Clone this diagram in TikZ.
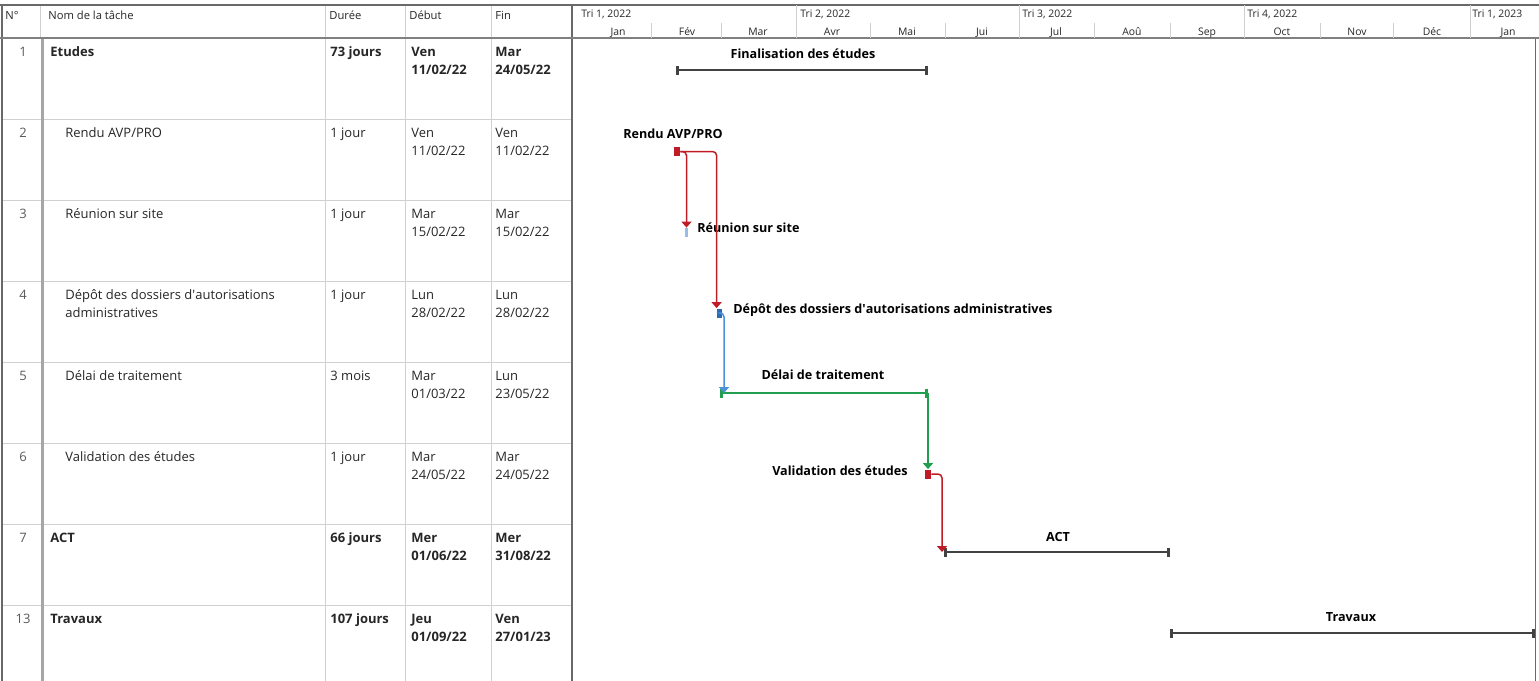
\documentclass[tikz,border=0pt]{standalone}
\usepackage{fontspec}
\setmainfont{Open Sans}
\usepackage{tikz}
\usetikzlibrary{arrows.meta}
\definecolor{ganttred}{RGB}{192,28,40}
\definecolor{ganttblue}{RGB}{76,146,214}
\definecolor{ganttdarkblue}{RGB}{44,108,178}
\definecolor{ganttlightblue}{RGB}{150,190,232}
\definecolor{ganttgreen}{RGB}{34,158,78}
\definecolor{ganttgray}{RGB}{66,66,66}
\definecolor{gridgray}{RGB}{208,208,208}
\definecolor{bordergray}{RGB}{105,105,105}
\definecolor{txtgray}{RGB}{38,38,38}

\begin{document}
\begin{tikzpicture}[x=0.5pt,y=-0.5pt]
                \tikzset{cell/.style = {anchor=north west, inner sep=0pt, align=left, text=txtgray, font=\fontsize{6.5}{9}\selectfont}}
                \tikzset{cellb/.style = {cell, font=\fontsize{6.5}{9}\selectfont\bfseries}}
                \tikzset{num/.style = {cell, anchor=north, text=black!65}}
                \tikzset{head/.style = {anchor=base west, inner sep=0pt, text=txtgray, font=\fontsize{5.6}{7}\selectfont}}
                \tikzset{cal/.style = {anchor=base, inner sep=0pt, text=txtgray, font=\fontsize{5.2}{6}\selectfont}}
                \tikzset{lbl/.style = {anchor=base, inner sep=0pt, font=\fontsize{6.3}{8}\selectfont\bfseries}}
                \tikzset{gridline/.style = {gridgray, line width=0.5pt}}
                \tikzset{sumbar/.style = {ganttgray, line width=1.2pt, arrows={Bar[width=4.5pt,line width=1.6pt]-Bar[width=4.5pt,line width=1.6pt]}}}
                \tikzset{taskbar/.style = {ganttgreen, line width=1.3pt, arrows={Bar[width=4.5pt,line width=1.6pt]-Bar[width=4.5pt,line width=1.6pt]}}}
                \tikzset{taskmark/.style = {inner sep=0pt, minimum width=3pt, minimum height=4.5pt}}
                \tikzset{lnred/.style = {ganttred, line width=0.75pt, rounded corners=2pt, -{Triangle[width=5pt,length=3pt]}}}
                \tikzset{lnblue/.style = {lnred, ganttblue}}
                \tikzset{lngreen/.style = {lnred, ganttgreen}}

                \useasboundingbox (0,0) rectangle (1539,681);

                % table grid
                \draw[gridline] (2,119) -- (572,119);
                \draw[gridline] (2,200) -- (572,200);
                \draw[gridline] (2,281) -- (572,281);
                \draw[gridline] (2,362) -- (572,362);
                \draw[gridline] (2,443) -- (572,443);
                \draw[gridline] (2,524) -- (572,524);
                \draw[gridline] (2,605) -- (572,605);
                \draw[gridline] (40,5) -- (40,38);
                \draw[black!35, line width=1.4pt] (42.5,38) -- (42.5,681);
                \draw[gridline] (325,5) -- (325,681);
                \draw[gridline] (405,5) -- (405,681);
                \draw[gridline] (491,5) -- (491,681);
                \draw[bordergray, line width=0.8pt] (2,5) -- (2,681);
                \draw[bordergray, line width=0.8pt] (572,5) -- (572,681);
                \draw[bordergray, line width=0.5pt] (1535,38) -- (1535,681);
                \draw[bordergray, line width=1pt] (0,5) -- (1539,5);
                \draw[gray, line width=0.6pt] (0,38) -- (1539,38);

                % calendar header
                \draw[gridline] (796,5) -- (796,38);
                \draw[gridline] (1019,5) -- (1019,38);
                \draw[gridline] (1244,5) -- (1244,38);
                \draw[gridline] (1470,5) -- (1470,38);
                \draw[gridline] (651,23) -- (651,38);
                \draw[gridline] (721,23) -- (721,38);
                \draw[gridline] (870,23) -- (870,38);
                \draw[gridline] (945,23) -- (945,38);
                \draw[gridline] (1094,23) -- (1094,38);
                \draw[gridline] (1170,23) -- (1170,38);
                \draw[gridline] (1320,23) -- (1320,38);
                \draw[gridline] (1393,23) -- (1393,38);

                \node[cal, anchor=base west] (q1) at (581,17.5) {Tri 1, 2022};
                \node[cal, anchor=base west] (q2) at (800,17.5) {Tri 2, 2022};
                \node[cal, anchor=base west] (q3) at (1022,17.5) {Tri 3, 2022};
                \node[cal, anchor=base west] (q4) at (1247,17.5) {Tri 4, 2022};
                \node[cal, anchor=base west] (q5) at (1472,17.5) {Tri 1, 2023};

                \node[cal] (m1) at (618,35) {Jan};
                \node[cal] (m2) at (687,35) {Fév};
                \node[cal] (m3) at (758,35) {Mar};
                \node[cal] (m4) at (832,35) {Avr};
                \node[cal] (m5) at (907,35) {Mai};
                \node[cal] (m6) at (982,35) {Jui};
                \node[cal] (m7) at (1056,35) {Jul};
                \node[cal] (m8) at (1132,35) {Aoû};
                \node[cal] (m9) at (1207,35) {Sep};
                \node[cal] (m10) at (1282,35) {Oct};
                \node[cal] (m11) at (1357,35) {Nov};
                \node[cal] (m12) at (1432,35) {Déc};
                \node[cal] (m13) at (1508,35) {Jan};

                % table header
                \node[head] (hnum) at (5,19) {N°};
                \node[head] (hnom) at (48,19) {Nom de la tâche};
                \node[head] (hdur) at (329,19) {Durée};
                \node[head] (hdeb) at (409,19) {Début};
                \node[head] (hfin) at (495,19) {Fin};

                % rows
                \node[num] (num1) at (23,46.5) {1};
                \node[cellb] (nom1) at (50,46.5) {Etudes};
                \node[cellb] (dur1) at (330,46.5) {73 jours};
                \node[cellb] (deb1) at (411,46.5) {Ven\\11/02/22};
                \node[cellb] (fin1) at (495,46.5) {Mar\\24/05/22};

                \node[num] (num2) at (23,127.5) {2};
                \node[cell] (nom2) at (65,127.5) {Rendu AVP/PRO};
                \node[cell] (dur2) at (330,127.5) {1 jour};
                \node[cell] (deb2) at (411,127.5) {Ven\\11/02/22};
                \node[cell] (fin2) at (495,127.5) {Ven\\11/02/22};

                \node[num] (num3) at (23,208.5) {3};
                \node[cell] (nom3) at (65,208.5) {Réunion sur site};
                \node[cell] (dur3) at (330,208.5) {1 jour};
                \node[cell] (deb3) at (411,208.5) {Mar\\15/02/22};
                \node[cell] (fin3) at (495,208.5) {Mar\\15/02/22};

                \node[num] (num4) at (23,289.5) {4};
                \node[cell] (nom4) at (65,289.5) {Dépôt des dossiers d\textquotesingle autorisations\\administratives};
                \node[cell] (dur4) at (330,289.5) {1 jour};
                \node[cell] (deb4) at (411,289.5) {Lun\\28/02/22};
                \node[cell] (fin4) at (495,289.5) {Lun\\28/02/22};

                \node[num] (num5) at (23,370.5) {5};
                \node[cell] (nom5) at (65,370.5) {Délai de traitement};
                \node[cell] (dur5) at (330,370.5) {3 mois};
                \node[cell] (deb5) at (411,370.5) {Mar\\01/03/22};
                \node[cell] (fin5) at (495,370.5) {Lun\\23/05/22};

                \node[num] (num6) at (23,451.5) {6};
                \node[cell] (nom6) at (65,451.5) {Validation des études};
                \node[cell] (dur6) at (330,451.5) {1 jour};
                \node[cell] (deb6) at (411,451.5) {Mar\\24/05/22};
                \node[cell] (fin6) at (495,451.5) {Mar\\24/05/22};

                \node[num] (num7) at (23,532.5) {7};
                \node[cellb] (nom7) at (50,532.5) {ACT};
                \node[cellb] (dur7) at (330,532.5) {66 jours};
                \node[cellb] (deb7) at (411,532.5) {Mer\\01/06/22};
                \node[cellb] (fin7) at (495,532.5) {Mer\\31/08/22};

                \node[num] (num8) at (23,613.5) {13};
                \node[cellb] (nom8) at (50,613.5) {Travaux};
                \node[cellb] (dur8) at (330,613.5) {107 jours};
                \node[cellb] (deb8) at (411,613.5) {Jeu\\01/09/22};
                \node[cellb] (fin8) at (495,613.5) {Ven\\27/01/23};

                % bars
                \coordinate (etudesS) at (676,70);
                \coordinate (etudesE) at (928,70);
                \coordinate (delaiS) at (720,393);
                \coordinate (delaiE) at (928,393);
                \coordinate (actS) at (944,552);
                \coordinate (actE) at (1170,552);
                \coordinate (travS) at (1170,633);
                \coordinate (travE) at (1535,633);

                \draw[sumbar] (etudesS) -- (etudesE);
                \draw[taskbar] (delaiS) -- (delaiE);
                \draw[sumbar] (actS) -- (actE);
                \draw[sumbar] (travS) -- (travE);

                % task marks
                \node[taskmark, fill=ganttred] (rendu) at (677,151.5) {};
                \node[taskmark, fill=ganttlightblue, minimum width=1.5pt] (reunion) at (686.5,232.5) {};
                \node[taskmark, fill=ganttdarkblue, minimum width=2.5pt] (depot) at (719.5,313) {};
                \node[taskmark, fill=ganttred] (valid) at (928,474) {};

                % labels
                \node[lbl] (lblEtudes) at (803,58.5) {Finalisation des études};
                \node[lbl, anchor=base west] (lblRendu) at (623,138.5) {Rendu AVP/PRO};
                \node[lbl, anchor=base west] (lblReunion) at (697,232.5) {Réunion sur site};
                \node[lbl, anchor=base west] (lblDepot) at (733,313) {Dépôt des dossiers d\textquotesingle autorisations administratives};
                \node[lbl] (lblDelai) at (823,379.5) {Délai de traitement};
                \node[lbl, anchor=base east] (lblValid) at (908,475) {Validation des études};
                \node[lbl] (lblAct) at (1058,541.5) {ACT};
                \node[lbl] (lblTrav) at (1351,621.5) {Travaux};

                % links
                \draw[lnred] (rendu.east) -| (reunion.north);
                \draw[lnred] (rendu.east) -| (depot.north west);
                \draw[lnblue] (depot.east) -| ([xshift=2pt]delaiS);
                \draw[lngreen] (delaiE) -- (valid.north);
                \draw[lnred] (valid.east) -| ([xshift=-1pt]actS);

\end{tikzpicture}
\end{document}
